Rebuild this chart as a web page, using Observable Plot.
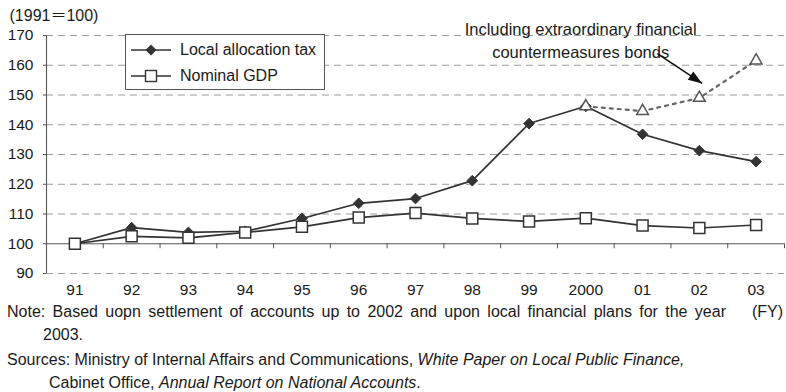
<!DOCTYPE html>
<html>
<head>
<meta charset="utf-8">
<script src="https://cdn.jsdelivr.net/npm/d3@7"></script>
<script src="https://cdn.jsdelivr.net/npm/@observablehq/plot@0.6"></script>
<style>
  body { margin: 0; background: #fff; }
  #wrap { position: relative; width: 786px; height: 392px; overflow: hidden; background: #fff;
          font-family: "Liberation Sans", Arial, "Noto Sans CJK JP", sans-serif; color: #1a1a1a; }
  #chart svg { display: block; }
  .legend { position: absolute; left: 125px; top: 34px; width: 198px; height: 54px;
            border: 1px solid #555; background: #fff; font-size: 16px; }
  .legend .row { position: absolute; left: 4px; height: 20px; display: flex; align-items: center; white-space: nowrap; }
  .legend .row svg { margin-right: 8px; }
  .notes { position: absolute; left: 7px; top: 300px; font-size: 16px; line-height: 23px; white-space: nowrap; }
  .notes .just { width: 719px; text-align: justify; text-align-last: justify; white-space: normal; }
  .notes .indent { padding-left: 36px; }
  .notes .src { margin-top: 2px; }
  .notes .indent2 { padding-left: 42px; }
  .fy { position: absolute; right: 3px; top: 300px; font-size: 16px; line-height: 23px; }
</style>
</head>
<body>
<div id="wrap">
  <div id="chart"></div>
  <div class="legend">
    <div class="row" style="top:5px">
      <svg width="42" height="20"><line x1="1" y1="10" x2="41" y2="10" stroke="#333" stroke-width="1.6"/>
        <path d="M21,4.5L26.5,10L21,15.5L15.5,10Z" fill="#333"/></svg>Local allocation tax</div>
    <div class="row" style="top:31px">
      <svg width="42" height="20"><line x1="1" y1="10" x2="41" y2="10" stroke="#333" stroke-width="1.6"/>
        <rect x="15.5" y="4.5" width="11" height="11" fill="#fff" stroke="#333" stroke-width="1.4"/></svg>Nominal GDP</div>
  </div>
  <div class="notes">
    <div class="just">Note: Based uopn settlement of accounts up to 2002 and upon local financial plans for the year</div>
    <div class="indent">2003.</div>
    <div class="src">Sources: Ministry of Internal Affairs and Communications, <i>White Paper on Local Public Finance,</i></div>
    <div class="indent2">Cabinet Office, <i>Annual Report on National Accounts</i>.</div>
  </div>
  <div class="fy">(FY)</div>
</div>
<script>
// Fiscal years (1991 = 100)
const years = ["91", "92", "93", "94", "95", "96", "97", "98", "99", "2000", "01", "02", "03"];
const localAllocationTax = [100, 105.4, 103.8, 104.2, 108.5, 113.6, 115.2, 121.2, 140.4, 146.2, 136.8, 131.3, 127.6];
const nominalGDP = [100, 102.5, 102.0, 103.8, 105.7, 108.8, 110.3, 108.5, 107.5, 108.6, 106.1, 105.3, 106.3];
// Local allocation tax including extraordinary financial countermeasures bonds
const bondYears = ["2000", "01", "02", "03"];
const withBonds = [146.2, 144.6, 149.0, 161.6];
const yTicks = [90, 100, 110, 120, 130, 140, 150, 160, 170];

// Annotation: label and arrow, in (year index, index value) units
const noteLabel = "Including extraordinary financial\ncountermeasures bonds";
const noteAt = {x: 8.91, y: 168.9};
const arrowFrom = {x: 10.26, y: 163.9};
const arrowTo = {x: 11.05, y: 153.9};

const W = 786, H = 300;
const margins = {marginLeft: 46, marginRight: 2, marginTop: 35, marginBottom: 27};
const xDomain = [-0.5, years.length - 0.5];
const yDomain = [90, 170];

const idx = (y) => years.indexOf(y);
const lat = years.map((y, i) => ({x: i, v: localAllocationTax[i]}));
const gdp = years.map((y, i) => ({x: i, v: nominalGDP[i]}));
const bonds = bondYears.map((y, i) => ({x: idx(y), v: withBonds[i]}));

// Direction of the arrow in screen space, for rotating its head
const sx = Plot.scale({x: {domain: xDomain, range: [margins.marginLeft, W - margins.marginRight]}});
const sy = Plot.scale({y: {domain: yDomain, range: [H - margins.marginBottom, margins.marginTop]}});
const adx = sx.apply(arrowTo.x) - sx.apply(arrowFrom.x);
const ady = sy.apply(arrowTo.y) - sy.apply(arrowFrom.y);
const headAngle = Math.atan2(adx, -ady) * 180 / Math.PI;

// Filled arrowhead whose tip sits at the origin, pointing up
const arrowHead = {
  draw(context, size) {
    const r = Math.sqrt(size / Math.PI);
    context.moveTo(0, 0);
    context.lineTo(-r, 2.8 * r);
    context.lineTo(r, 2.8 * r);
    context.closePath();
  }
};

const chart = Plot.plot({
  width: W,
  height: H,
  ...margins,
  style: {fontFamily: '"Liberation Sans", Arial, "Noto Sans CJK JP", sans-serif', fontSize: "15.5px", color: "#1a1a1a", background: "#fff", overflow: "visible"},
  x: {domain: xDomain},
  y: {domain: yDomain},
  marks: [
    // dashed gridlines
    Plot.ruleY(yTicks.filter((v) => v !== 100), {stroke: "#9a9a9a", strokeDasharray: "7,5", strokeWidth: 1}),
    // baseline at 100 with ticks between fiscal years
    Plot.ruleY([100], {stroke: "#555", strokeWidth: 1.1}),
    Plot.ruleX(d3.range(years.length).map((i) => i + 0.5), {y1: 100, y2: 100, insetBottom: -5, stroke: "#555"}),
    // vertical axis line
    Plot.ruleX([xDomain[0]], {y1: yDomain[0], y2: yDomain[1], stroke: "#555", strokeWidth: 1.1}),
    Plot.axisY({ticks: yTicks, tickSize: 3, tickPadding: 10, label: null, stroke: "#555", fontSize: 15.5}),
    Plot.axisX({ticks: d3.range(years.length), tickFormat: (i) => years[i], tickSize: 0, tickPadding: 10, label: null, fontSize: 15.5}),
    Plot.text(["(1991＝100)"], {frameAnchor: "top-left", dx: -37, dy: -20, textAnchor: "start", lineAnchor: "middle", fontSize: 16, fill: "#1a1a1a"}),
    // Local allocation tax
    Plot.line(lat, {x: "x", y: "v", stroke: "#333", strokeWidth: 1.7}),
    Plot.dot(lat, {x: "x", y: "v", symbol: "diamond2", r: 4.8, fill: "#333", stroke: "#333", strokeWidth: 1}),
    // Nominal GDP
    Plot.line(gdp, {x: "x", y: "v", stroke: "#333", strokeWidth: 1.7}),
    Plot.dot(gdp, {x: "x", y: "v", symbol: "square", r: 6.2, fill: "#fff", stroke: "#333", strokeWidth: 1.5}),
    // Including extraordinary financial countermeasures bonds
    Plot.line(bonds, {x: "x", y: "v", stroke: "#666", strokeWidth: 2.2, strokeDasharray: "3,5"}),
    Plot.dot(bonds, {x: "x", y: "v", symbol: "triangle2", r: 5.6, fill: "#fff", stroke: "#555", strokeWidth: 1.5}),
    // annotation
    Plot.text([noteLabel], {x: noteAt.x, y: noteAt.y, textAnchor: "middle", lineAnchor: "middle", lineHeight: 1.42, fontSize: 16.5, fill: "#1a1a1a"}),
    Plot.link([arrowFrom], {x1: arrowFrom.x, y1: arrowFrom.y, x2: arrowTo.x, y2: arrowTo.y, stroke: "#111", strokeWidth: 1.6}),
    Plot.dot([arrowTo], {x: "x", y: "y", symbol: arrowHead, r: 5, fill: "#111", stroke: "none", rotate: headAngle})
  ]
});
document.getElementById("chart").append(chart);
</script>
</body>
</html>
